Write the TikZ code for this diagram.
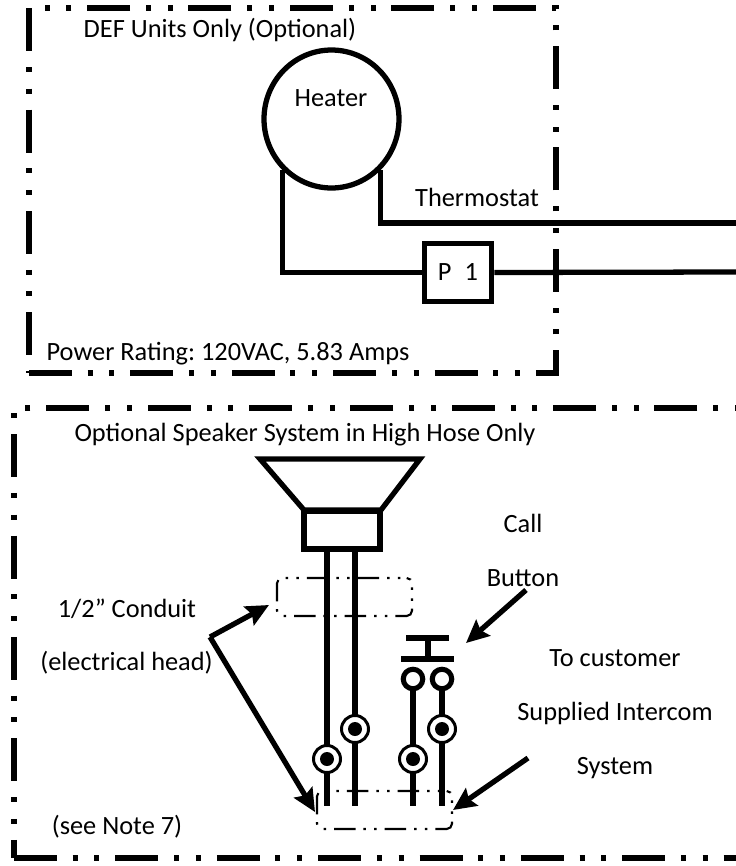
\documentclass[tikz,border=0pt]{standalone}
\usepackage{fontspec}
\setmainfont{Carlito}
\usetikzlibrary{arrows.meta, shapes.geometric}
\tikzset{>={Stealth[length=13pt, width=12pt, inset=2pt]}}
\tikzset{wire/.style = {line width = 3pt}}
\tikzset{boxline/.style = {line width = 2.9pt, dash pattern = on 0.86cm off 0.314cm on 0.1cm off 0.334cm on 0.1cm off 0.32cm}}
\tikzset{conduit/.style = {draw, rectangle, line width = 1.2pt, rounded corners = 3pt, minimum width = 2.7cm, minimum height = 0.76cm, dash pattern = on 0.43cm off 0.157cm on 0.05cm off 0.167cm on 0.05cm off 0.16cm, dash phase = 0.46cm}}
\tikzset{pointer/.style = {->, line width = 3pt}}
\tikzset{label/.style = {inner sep = 0pt, font = \fontsize{15}{18}\selectfont\frenchspacing}}
\newcommand\jack[3]{{\node[circle, draw, fill = white, line width = 1.7pt, minimum size = 0.54cm, inner sep = 0pt] (#1) at (#2, #3) {}; \node[circle, fill = black, minimum size = 0.28cm, inner sep = 0pt] (#1dot) at (#2, #3) {};}}
\newcommand\push[3]{{\node[circle, draw, fill = white, line width = 2.9pt, minimum size = 0.39cm, inner sep = 0pt] (#1) at (#2, #3) {};}}

\begin{document}
\begin{tikzpicture}[x = 0.02cm, y = -0.02cm]
	\useasboundingbox (0, 0) rectangle (736, 866);
	% upper box
	\draw[boxline] (29, 373) -- (556, 373) -- (556, 8) -- (29, 8) -- cycle;
	\node[label] (defunits) at (220, 30) {DEF Units Only (Optional)};
	\node[label] (power) at (228, 354) {Power Rating: 120VAC, 5.83 Amps};
	\node[ellipse, draw, line width = 3pt, minimum width = 2.7cm, minimum height = 2.76cm, inner sep = 0pt] (heater) at (331.5, 119) {};
	\node[label] (heatertext) at (331, 98) {Heater};
	\node[label] (thermostat) at (477, 197) {Thermostat};
	\node[rectangle, draw, line width = 3.4pt, minimum width = 1.34cm, minimum height = 1.16cm, inner sep = 0pt, label] (pone) at (458, 272.5) {P\hspace{0.5em}1};
	\coordinate (thermoend) at (736, 223);
	\coordinate (powerend) at (736, 272);
	\draw[wire] (heater.-46) |- (thermoend);
	\draw[wire] (heater.-134) |- (pone.west);
	\draw[wire] (pone.east) -- (powerend);
	% lower box
	\draw[boxline] (14, 858) -- (739, 858) -- (739, 408) -- (14, 408) -- cycle;
	\node[label] (speakertext) at (305, 435) {Optional Speaker System in High Hose Only};
	\draw[wire] (260, 459) -- (420, 459) -- (381, 510) -- (304, 510) -- cycle;
	\node[rectangle, draw, line width = 3.4pt, minimum width = 1.52cm, minimum height = 0.76cm, inner sep = 0pt] (driver) at (342, 530) {};
	\node[conduit] (conduitone) at (344.5, 597) {};
	\node[conduit] (conduittwo) at (384.5, 810) {};
	\coordinate (enda) at (327, 806);
	\coordinate (endb) at (355, 806);
	\coordinate (endc) at (413, 806);
	\coordinate (endd) at (442, 806);
	\draw[wire] (driver.south -| enda) -- (enda);
	\draw[wire] (driver.south -| endb) -- (endb);
	\push{pusha}{413}{679} \push{pushb}{442}{679}
	\draw[wire] (pusha.south) -- (endc);
	\draw[wire] (pushb.south) -- (endd);
	\jack{jacka}{327}{759} \jack{jackb}{355}{729} \jack{jackc}{413}{759} \jack{jackd}{442}{729}
	% button
	\coordinate (bartop) at (428, 638);
	\coordinate (barlow) at (428, 659);
	\draw[wire] (406, 638) -- (449, 638);
	\draw[wire] (401, 659) -- (454, 659);
	\draw[wire] (bartop) -- (barlow);
	% leaders
	\coordinate (leader) at (210, 637);
	\coordinate (tipone) at (269, 605);
	\coordinate (tiptwo) at (315, 812);
	\coordinate (callstart) at (526, 590);
	\coordinate (calltip) at (466, 643);
	\coordinate (sysstart) at (528, 758);
	\coordinate (systip) at (453, 810);
	\draw[pointer] (leader) -- (tipone);
	\draw[pointer] (leader) -- (tiptwo);
	\draw[pointer] (callstart) -- (calltip);
	\draw[pointer] (sysstart) -- (systip);
	% texts
	\node[label] (call) at (523, 523) {Call};
	\node[label] (button) at (523, 578) {Button};
	\node[label] (customer) at (615, 658) {To customer};
	\node[label] (supplied) at (615, 713) {Supplied Intercom};
	\node[label] (system) at (615, 768) {System};
	\node[label] (halfinch) at (127, 609) {1/2” Conduit};
	\node[label] (elechead) at (126.5, 663) {(electrical head)};
	\node[label] (seenote) at (117, 827) {(see Note 7)};
\end{tikzpicture}
\end{document}
